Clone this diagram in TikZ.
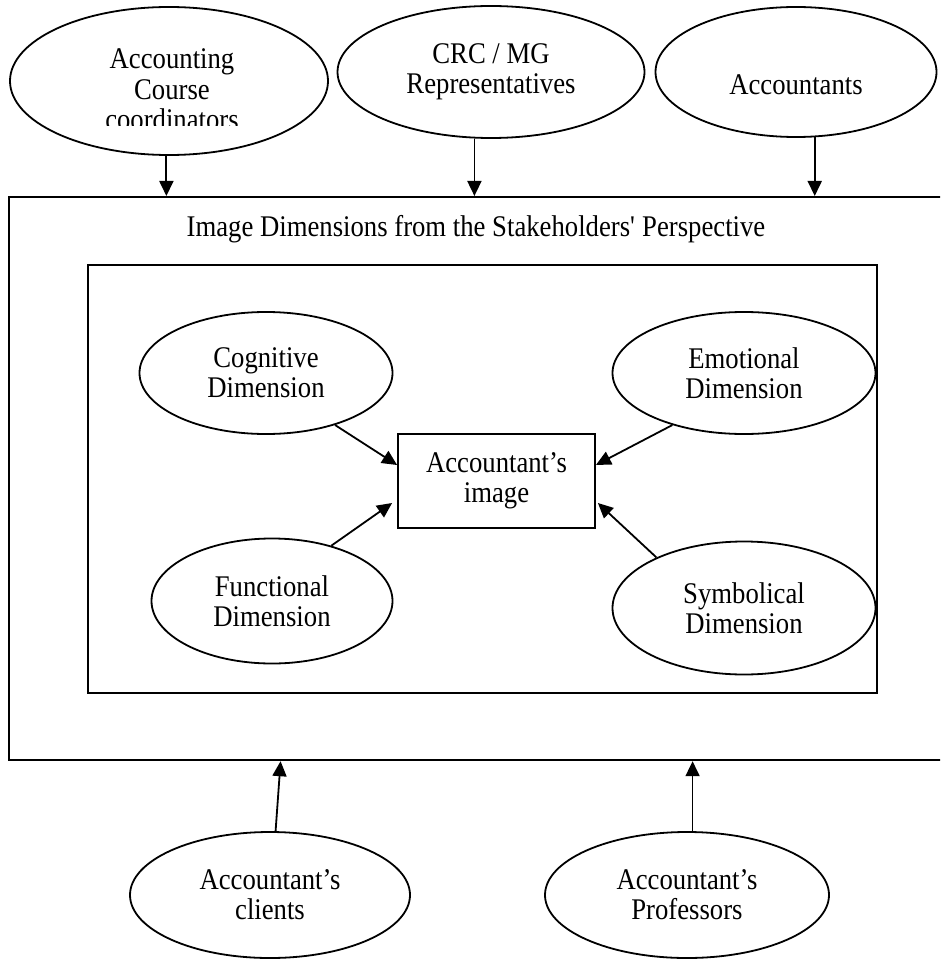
\documentclass[tikz,border=0pt]{standalone}
\usepackage{fontspec}
\setmainfont[FakeStretch=0.89]{Liberation Serif}
\usetikzlibrary{arrows.meta,shapes.geometric,calc}
\begin{document}
\begin{tikzpicture}[x=1pt,y=-1pt,
  every node/.style={font=\fontsize{30}{30}\selectfont, align=center, inner sep=0pt},
  ell/.style={draw, ellipse, line width=1.8pt},
  frame/.style={draw, rectangle, line width=1.8pt, anchor=north west},
  arr/.style={line width=1.8pt, -{Triangle[length=15pt,width=14pt]}}]
\clip (0,0) rectangle (940,960);
% outer and inner frames
\node[frame, line width=2.2pt, minimum width=952pt, minimum height=563pt] (outer) at (8,196) {};
\node (title) at (476,229) {Image Dimensions from the Stakeholders\textquotesingle{} Perspective};
\node[frame, minimum width=789pt, minimum height=428pt] (inner) at (87,264) {};
% top stakeholders
\node[ell, minimum width=318pt, minimum height=148pt] (coord) at (169,81) {};
\begin{scope}
  \clip (0,0) rectangle (940,126);
  \node (coordtext) at (172,89) {Accounting\\[1pt]Course\\coordinators};
\end{scope}
\node[ell, minimum width=307pt, minimum height=132pt] (crc) at (491,72) {CRC / MG\\Representatives};
\node[ell, minimum width=281pt, minimum height=130pt,
      label={[yshift=-13pt]center:Accountants}] (acc) at (796,72) {};
% bottom stakeholders
\node[ell, minimum width=280pt, minimum height=126pt] (cli) at (270,895) {Accountant’s\\clients};
\node[ell, minimum width=284pt, minimum height=126pt] (pro) at (687,895) {Accountant’s\\Professors};
% dimensions
\node[ell, minimum width=253pt, minimum height=122pt] (cog) at (266,373) {Cognitive\\Dimension};
\node[ell, minimum width=263pt, minimum height=122pt] (emo) at (744,373) {Emotional\\Dimension};
\node[ell, minimum width=241pt, minimum height=125pt] (fun) at (272,601) {Functional\\Dimension};
\node[ell, minimum width=263pt, minimum height=133pt] (sym) at (744,608) {Symbolical\\Dimension};
\node[draw, line width=1.8pt, minimum width=197pt, minimum height=94pt] (img) at (496.5,481) {Accountant’s\\image};
% connectors
\draw[arr] (coord.268) -- (coord.268 |- outer.north);
\draw[arr] (crc.256) -- (crc.256 |- outer.north);
\draw[arr] (acc.286) -- (acc.286 |- outer.north);
\draw[arr] (cli.85) -- ([xshift=5pt]cli.85 |- outer.south);
\draw[arr] (pro.85) -- (pro.85 |- outer.south);
\draw[arr] (cog.323) -- ([yshift=16pt]img.west);
\draw[arr] (emo.216) -- ([yshift=16pt]img.east);
\draw[arr] (fun.43) -- ([shift={(-5pt,-22pt)}]img.west);
\draw[arr] (sym.150) -- ([shift={(2pt,-22pt)}]img.east);
\end{tikzpicture}
\end{document}
